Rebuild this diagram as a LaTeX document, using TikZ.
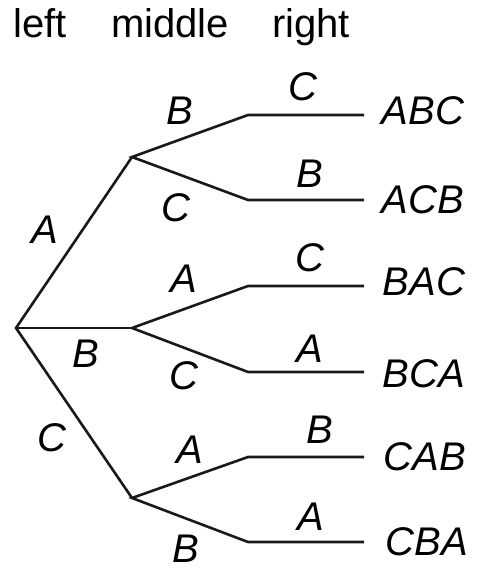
\documentclass[tikz,border=0pt]{standalone}
\usepackage{fontspec}
\setmainfont{Liberation Sans}
\begin{document}
\begin{tikzpicture}[x=1pt,y=-1pt,
  branch/.style={line width=2.6pt,line join=miter,color=black!90},
  lab/.style={font=\fontsize{40}{48}\selectfont\itshape,anchor=base,inner sep=0pt},
  head/.style={font=\fontsize{40}{48}\selectfont,anchor=base,inner sep=0pt}]
\useasboundingbox (0,0) rectangle (490,577);
% headers
\node[head] (hl) at (40,38) {left};
\node[head] (hm) at (170,38) {middle};
\node[head] (hr) at (311,38) {right};
% tree points
\coordinate (r) at (16,328);
\coordinate (m1) at (132,157);
\coordinate (m2) at (132,328);
\coordinate (m3) at (132,498);
\coordinate (a1) at (248,115); \coordinate (e1) at (364,115);
\coordinate (a2) at (248,200); \coordinate (e2) at (364,200);
\coordinate (a3) at (248,286); \coordinate (e3) at (364,286);
\coordinate (a4) at (248,372); \coordinate (e4) at (364,372);
\coordinate (a5) at (248,457); \coordinate (e5) at (364,457);
\coordinate (a6) at (248,542); \coordinate (e6) at (364,542);
\draw[branch] (m1) -- (r) -- (m3);
\draw[branch] (r) -- (m2);
\draw[branch] (e1) -- (a1) -- (m1) -- (a2) -- (e2);
\draw[branch] (e3) -- (a3) -- (m2) -- (a4) -- (e4);
\draw[branch] (e5) -- (a5) -- (m3) -- (a6) -- (e6);
% first-level labels
\node[lab] (lA) at (45,243) {A};
\node[lab] (lB) at (86,367) {B};
\node[lab] (lC) at (52,451) {C};
% second-level labels
\node[lab] (l1) at (180,125) {B};
\node[lab] (l2) at (176,221) {C};
\node[lab] (l3) at (184,292) {A};
\node[lab] (l4) at (184,389) {C};
\node[lab] (l5) at (190,463) {A};
\node[lab] (l6) at (186,562) {B};
% third-level labels
\node[lab] (t1) at (303,101) {C};
\node[lab] (t2) at (310,188) {B};
\node[lab] (t3) at (310,271) {C};
\node[lab] (t4) at (310,362) {A};
\node[lab] (t5) at (320,443) {B};
\node[lab] (t6) at (311,530) {A};
% results
\node[lab] (p1) at (423,125) {ABC};
\node[lab] (p2) at (423,213) {ACB};
\node[lab] (p3) at (424,295) {BAC};
\node[lab] (p4) at (424,387) {BCA};
\node[lab] (p5) at (425,470) {CAB};
\node[lab] (p6) at (427,555) {CBA};
\end{tikzpicture}
\end{document}
